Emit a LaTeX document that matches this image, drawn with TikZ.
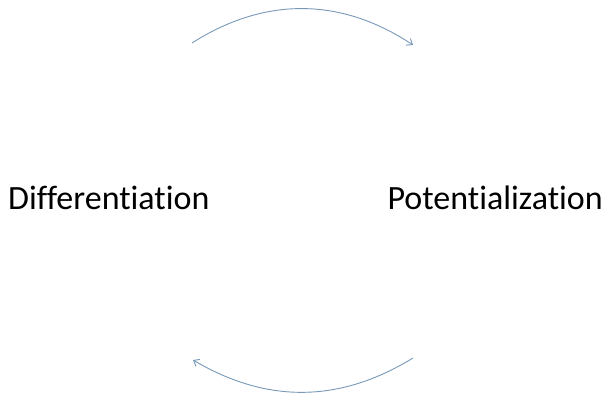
\documentclass[tikz,border=0pt]{standalone}
\usepackage{fontspec}
\setmainfont{Carlito}[Ligatures=NoCommon]
\usepackage{xcolor}
\usetikzlibrary{arrows.meta}
\definecolor{arcblue}{RGB}{120,152,185}
\tikzset{
    phase/.style = {
        inner sep = 0pt,
        font = \fontsize{34}{40}\selectfont,
    },
    cycle/.style = {
        draw = arcblue,
        line width = 0.9pt,
        -{Straight Barb[length=5pt,width=8pt]},
    }
}

\begin{document}
\begin{tikzpicture}[x=1pt,y=1pt]
    \useasboundingbox (0,0) rectangle (606,395);

    \node[phase,anchor=base west] (Diff) at (8,185) {Differentiation};
    \node[phase,anchor=base east] (Pot) at (603,185) {Potentialization};

    \coordinate (TopL) at (192,352);
    \coordinate (TopR) at (413,350);
    \coordinate (BotR) at (413,37);
    \coordinate (BotL) at (193,35);

    \draw[cycle] (TopL) to[bend left=33] (TopR);
    \draw[cycle] (BotR) to[bend left=31] (BotL);

\end{tikzpicture}
\end{document}
